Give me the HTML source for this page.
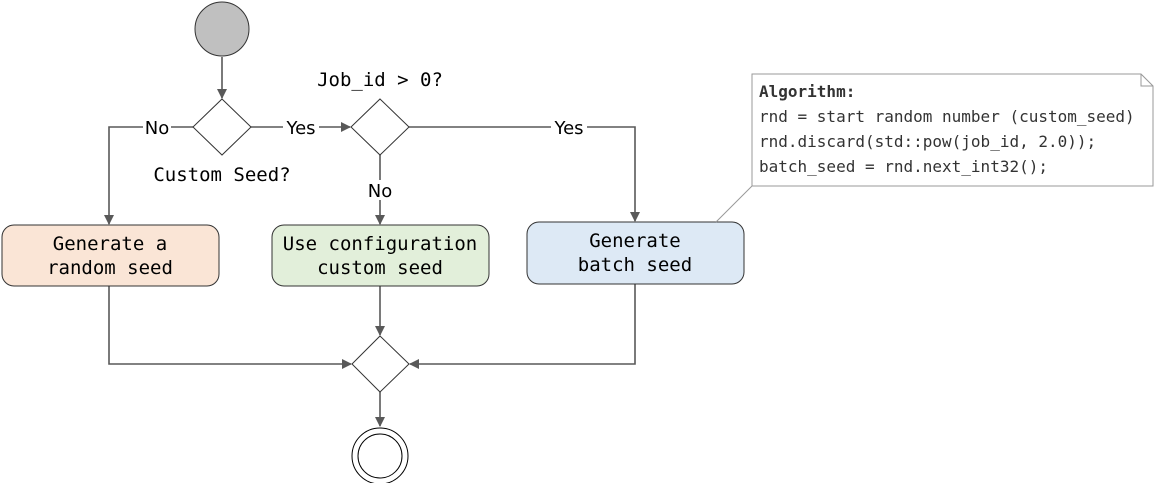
<!DOCTYPE html>
<html><head><meta charset="utf-8"><style>
html,body{margin:0;padding:0;background:#fff;}
svg{display:block;}
.m{font-family:"DejaVu Sans Mono","Liberation Mono",monospace;font-size:19px;fill:#000;}
.n{font-family:"DejaVu Sans Mono","Liberation Mono",monospace;font-size:16px;fill:#333;}
.l{font-family:"DejaVu Sans","Liberation Sans",sans-serif;font-size:18px;fill:#000;}
</style></head><body>
<svg width="1156" height="483" viewBox="0 0 1156 483" xmlns="http://www.w3.org/2000/svg">
<defs><marker id="a" markerWidth="10" markerHeight="10" refX="9" refY="5" orient="auto" markerUnits="userSpaceOnUse"><path d="M0,0 L10,5 L0,10 z" fill="#595959"/></marker></defs>
<g stroke="#595959" stroke-width="1.6" fill="none">
<line x1="222" y1="57" x2="222" y2="98" marker-end="url(#a)"/>
<polyline points="193,127 109,127 109,224" marker-end="url(#a)"/>
<line x1="251" y1="127" x2="350" y2="127" marker-end="url(#a)"/>
<polyline points="409,127 635,127 635,221" marker-end="url(#a)"/>
<line x1="380" y1="155" x2="380" y2="224" marker-end="url(#a)"/>
<polyline points="109,286 109,364 351,364" marker-end="url(#a)"/>
<polyline points="635,284 635,364 410,364" marker-end="url(#a)"/>
<line x1="380" y1="286" x2="380" y2="335" marker-end="url(#a)"/>
<line x1="380" y1="392" x2="380" y2="426" marker-end="url(#a)"/>
</g>
<circle cx="222" cy="29" r="27" fill="#c0c0c0" stroke="#333" stroke-width="1"/>
<g fill="#fff" stroke="#333" stroke-width="1">
<polygon points="222,99 251,127 222,155 193,127"/>
<polygon points="380,99 409,127 380,155 351,127"/>
<polygon points="380,336 409,364 380,392 352,364"/>
</g>
<circle cx="380" cy="456" r="28" fill="#fff" stroke="#000" stroke-width="1"/>
<circle cx="380" cy="456" r="22" fill="#fff" stroke="#000" stroke-width="1"/>
<rect x="2" y="225" width="217" height="61" rx="12" fill="#fae5d6" stroke="#333" stroke-width="1"/>
<rect x="272" y="225" width="217" height="61" rx="12" fill="#e2efda" stroke="#333" stroke-width="1"/>
<rect x="527" y="222" width="217" height="62" rx="12" fill="#dde9f5" stroke="#333" stroke-width="1"/>
<!-- labels with white backgrounds -->
<rect x="143" y="117" width="28" height="20" fill="#fff"/>
<text class="l" x="157" y="134" text-anchor="middle">No</text>
<rect x="283" y="117" width="36" height="20" fill="#fff"/>
<text class="l" x="301" y="134" text-anchor="middle">Yes</text>
<rect x="551" y="117" width="36" height="20" fill="#fff"/>
<text class="l" x="569" y="134" text-anchor="middle">Yes</text>
<rect x="367" y="180" width="26" height="20" fill="#fff"/>
<text class="l" x="380" y="197" text-anchor="middle">No</text>
<text class="m" x="380" y="86" text-anchor="middle">Job_id &gt; 0?</text>
<text class="m" x="222" y="181" text-anchor="middle">Custom Seed?</text>
<text class="m" x="110" y="250" text-anchor="middle">Generate a</text>
<text class="m" x="110" y="274" text-anchor="middle">random seed</text>
<text class="m" x="380" y="250" text-anchor="middle">Use configuration</text>
<text class="m" x="380" y="274" text-anchor="middle">custom seed</text>
<text class="m" x="635" y="247" text-anchor="middle">Generate</text>
<text class="m" x="635" y="271" text-anchor="middle">batch seed</text>
<!-- note -->
<line x1="752" y1="186" x2="716" y2="222" stroke="#999" stroke-width="1"/>
<path d="M752,74 L1141,74 L1153,86 L1153,186 L752,186 Z" fill="#fff" stroke="#999" stroke-width="1"/>
<path d="M1141,74 L1141,86 L1153,86" fill="none" stroke="#999" stroke-width="1"/>
<text class="n" x="759" y="97" font-weight="bold" style="fill:#333">Algorithm:</text>
<text class="n" x="759" y="122">rnd = start random number (custom_seed)</text>
<text class="n" x="759" y="147">rnd.discard(std::pow(job_id, 2.0));</text>
<text class="n" x="759" y="172">batch_seed = rnd.next_int32();</text>
</svg>
</body></html>
